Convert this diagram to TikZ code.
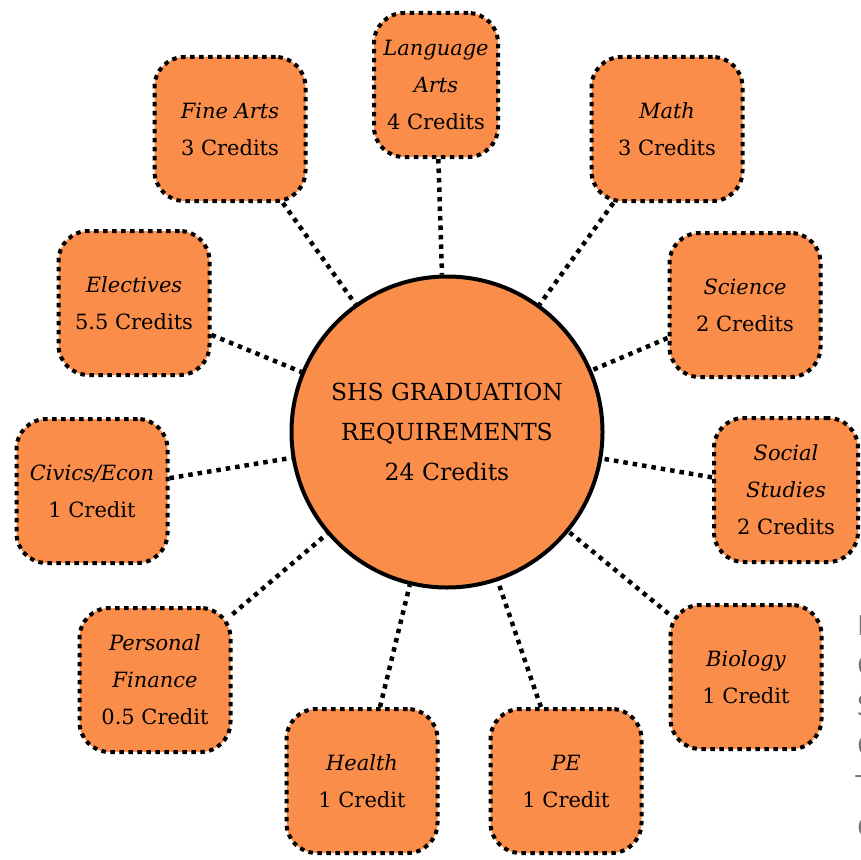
\documentclass[tikz,border=0pt]{standalone}
\usepackage{fontspec}
\setmainfont{DejaVu Serif}
\setsansfont{Open Sans}
\definecolor{fillor}{RGB}{251,141,74}
\definecolor{sidegray}{RGB}{120,120,120}
\begin{document}
\begin{tikzpicture}[x=1pt,y=-1pt,
  subj/.style={draw=black, line width=4pt, dash pattern=on 4.5pt off 4.5pt,
    fill=fillor, rounded corners=30pt, minimum width=151pt, minimum height=144pt,
    align=center, font=\fontsize{21}{37}\selectfont, inner sep=0pt},
  hub/.style={circle, draw=black, line width=4pt, fill=fillor, minimum size=311pt,
    align=center, font=\fontsize{23.5}{40}\selectfont, inner sep=0pt},
  link/.style={line width=4.5pt, dash pattern=on 4.5pt off 5pt},
  side/.style={anchor=base west, text=sidegray, font=\sffamily\fontsize{28}{40}\selectfont, inner sep=0pt}
  ]
\useasboundingbox (0,0) rectangle (861,859);
\node[hub] (hub) at (447,432) {SHS GRADUATION\\REQUIREMENTS\\24 Credits};
\node[subj, minimum width=124pt] (lang) at (436,85) {\textit{Language}\\\textit{Arts}\\4 Credits};
\node[subj] (fine) at (230,129) {\textit{Fine Arts}\\3 Credits};
\node[subj] (math) at (667,129) {\textit{Math}\\3 Credits};
\node[subj] (elec) at (134,303) {\textit{Electives}\\5.5 Credits};
\node[subj] (sci) at (745,305) {\textit{Science}\\2 Credits};
\node[subj] (civ) at (92,491) {\textit{Civics/Econ}\\1 Credit};
\node[subj, minimum width=144pt] (soc) at (786,490) {\textit{Social}\\\textit{Studies}\\2 Credits};
\node[subj] (pf) at (155,680) {\textit{Personal}\\\textit{Finance}\\0.5 Credit};
\node[subj] (bio) at (746,677) {\textit{Biology}\\1 Credit};
\node[subj] (hea) at (362,781) {\textit{Health}\\1 Credit};
\node[subj] (pe) at (566,781) {\textit{PE}\\1 Credit};
\foreach \n in {lang,fine,math,elec,sci,civ,soc,pf,bio,hea,pe}
  \draw[link] (\n) -- (hub);
\node[side] (s1) at (857,635) {F};
\node[side] (s2) at (857,675) {C};
\node[side] (s3) at (857,715) {S};
\node[side] (s4) at (857,755) {C};
\node[side] (s5) at (855,795) {T};
\node[side] (s6) at (857,837) {C};
\end{tikzpicture}
\end{document}
